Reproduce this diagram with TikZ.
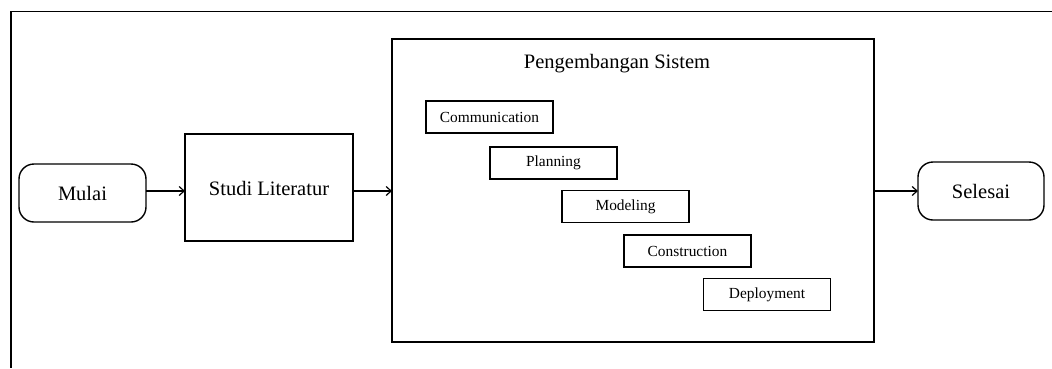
\documentclass[tikz,border=0pt]{standalone}
\usepackage{fontspec}
\setmainfont{Liberation Serif}
\usetikzlibrary{arrows.meta}
\begin{document}
\begin{tikzpicture}[x=1pt,y=-1pt,
  line width=1.4pt,
  every node/.style={inner sep=0pt, outer sep=0pt},
  terminal/.style={draw, rounded corners=15pt, font=\fontsize{20.5}{24}\selectfont},
  mainbox/.style={draw, font=\fontsize{20.5}{24}\selectfont},
  phase/.style={draw, minimum width=127pt, minimum height=32pt, font=\fontsize{15.4}{18}\selectfont},
  flow/.style={line width=1.2pt, -{Straight Barb[length=5pt,width=9pt]}}]
  % page extent
  \useasboundingbox (0,0) rectangle (1052,368);
  % frame: top and left edges
  \draw[line width=1.8pt] (1052,11.5) -- (11,11.5) -- (11,368);
  % start / end terminals
  \node[terminal, minimum width=127pt, minimum height=58pt] (mulai) at (82.5,193) {Mulai};
  \node[terminal, minimum width=126pt, minimum height=58pt] (selesai) at (981,191) {Selesai};
  % literature study
  \node[mainbox, minimum width=168pt, minimum height=107pt] (studi) at (269,187.5) {};
  \node (studitext) at (269,188) {\fontsize{20.5}{24}\selectfont Studi Literatur};
  % system development container
  \node[draw, minimum width=482pt, minimum height=303pt] (sistem) at (633,190.5) {};
  \node (judul) at (617,64) {\fontsize{20.5}{24}\selectfont Pengembangan Sistem};
  % waterfall phases
  \node[phase] (comm) at (489.5,117) {Communication};
  \node[phase] (plan) at (553.5,163) {Planning};
  \node[phase] (model) at (625.5,206.5) {Modeling};
  \node[phase] (cons) at (687.5,251) {Construction};
  \node[phase] (depl) at (767,294.5) {Deployment};
  % connectors
  \draw[flow] (mulai.east |- 0,191) -- (studi.west |- 0,191);
  \draw[flow] (studi.east |- 0,191) -- (sistem.west |- 0,191);
  \draw[flow] (sistem.east |- 0,191) -- (selesai.west);
\end{tikzpicture}
\end{document}
